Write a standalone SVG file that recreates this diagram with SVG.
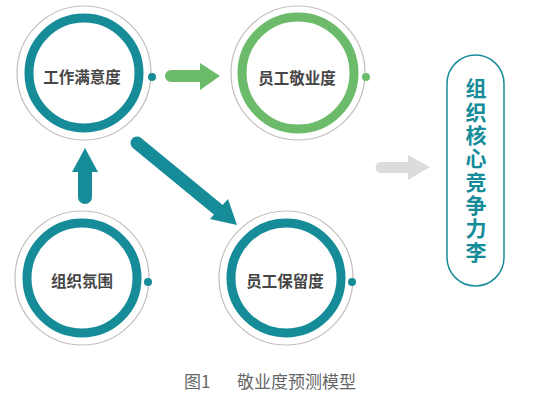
<svg xmlns="http://www.w3.org/2000/svg" width="540" height="400" viewBox="0 0 540 400">
<style>
.outer{fill:#ffffff;stroke:#c8bcbc;stroke-width:1.2}
.ring{fill:none;stroke-width:9}
.teal{stroke:#178c99}
.green{stroke:#6bbb6b}
.dotT{fill:#178c99}
.dotG{fill:#6bbb6b}
.lbl{font-family:"Noto Sans CJK SC","Noto Sans CJK TC",sans-serif;font-weight:bold;font-size:15.5px;fill:#464646;text-anchor:middle;dominant-baseline:central}
.side{font-family:"Noto Sans CJK SC",sans-serif;font-weight:bold;font-size:21px;fill:#178c99;writing-mode:vertical-rl;letter-spacing:2.3px}
.cap{font-family:"Noto Sans CJK SC",sans-serif;font-size:17px;fill:#666666}
</style>
<rect width="540" height="400" fill="#ffffff"/>
<g id="connectors">
  <path d="M171,70 H200 V63 L220,76 L200,90 V82 H171 A6,6 0 0 1 171,70 Z" fill="#6bbb6b"/>
  <path d="M78,197 V172 H72 L85,148 L98,172 H92 V197 A7,7 0 0 1 78,197 Z" fill="#178c99"/>
  <path d="M137,143 L221,212" stroke="#178c99" stroke-width="13" stroke-linecap="round" fill="none"/>
  <path d="M228,199 L237,225 L210,219 Z" fill="#178c99"/>
  <path d="M381,162 H408 V155 L430,167 L408,180 V173 H381 A5.5,5.5 0 0 1 381,162 Z" fill="#dcdcdc"/>
</g>
<g id="node-satisfaction">
  <circle class="outer" cx="84" cy="73" r="67"/>
  <circle class="ring teal" cx="84" cy="73" r="55"/>
  <circle class="dotT" cx="152" cy="77" r="4"/>
  <text class="lbl" x="82" y="76">工作满意度</text>
</g>
<g id="node-engagement">
  <circle class="outer" cx="298" cy="73" r="67"/>
  <circle class="ring green" cx="298" cy="73" r="56"/>
  <circle class="dotG" cx="366" cy="77" r="4"/>
  <text class="lbl" x="297" y="77">员工敬业度</text>
</g>
<g id="node-climate">
  <circle class="outer" cx="82" cy="278" r="67"/>
  <circle class="ring teal" cx="82" cy="278" r="55"/>
  <circle class="dotT" cx="148" cy="282" r="4"/>
  <text class="lbl" x="82" y="280">组织氛围</text>
</g>
<g id="node-retention">
  <circle class="outer" cx="286" cy="278" r="67"/>
  <circle class="ring teal" cx="286" cy="278" r="55"/>
  <circle class="dotT" cx="352" cy="282" r="4"/>
  <text class="lbl" x="285" y="280">员工保留度</text>
</g>
<g id="node-competitiveness">
  <rect x="447" y="55" width="57" height="231" rx="28.5" fill="#ffffff" stroke="#178c99" stroke-width="1.5"/>
  <text class="side" x="476" y="78">组织核心竞争力李</text>
</g>
<text class="cap" x="184" y="388">图1</text>
<text class="cap" x="237" y="388">敬业度预测模型</text>
</svg>
